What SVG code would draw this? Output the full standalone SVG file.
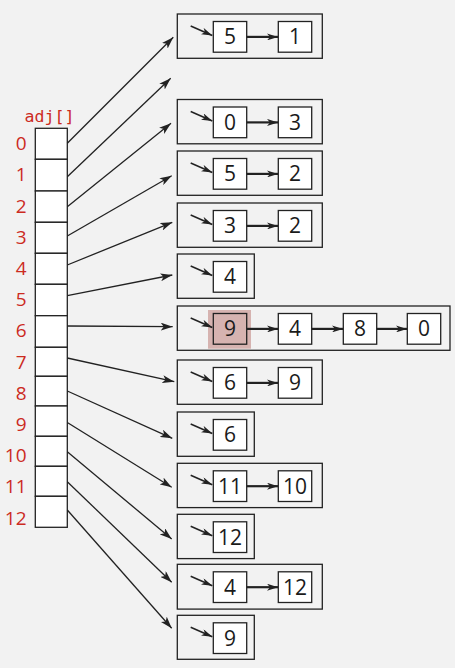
<svg xmlns="http://www.w3.org/2000/svg" width="455" height="668" viewBox="0 0 455 668">
<style>
.bg{fill:#f2f2f2}
.cell{fill:#ffffff;stroke:#222;stroke-width:1.3}
.box{fill:none;stroke:#222;stroke-width:1.3}
.node{fill:#ffffff;stroke:#222;stroke-width:1.3}
.hl{fill:#d6b3b0}
.nt{font-family:"Open Sans","Noto Sans","Liberation Sans",sans-serif;font-size:21px;fill:#1a1a1a;text-anchor:middle}
.idx{font-family:"Open Sans","Noto Sans","Liberation Sans",sans-serif;font-size:19px;fill:#cc2b1f;text-anchor:end}
.adj{font-family:"DejaVu Sans Mono","Liberation Mono",monospace;font-size:16.6px;fill:#cc2b1f}
.conn{fill:none;stroke:#222;stroke-width:1.3;marker-end:url(#ah)}
.ptr{fill:none;stroke:#222;stroke-width:1.5;marker-end:url(#ah2)}
.lnk{fill:none;stroke:#222;stroke-width:2.2;marker-end:url(#ah2)}
</style>
<defs>
<marker id="ah" markerUnits="userSpaceOnUse" viewBox="0 0 12 8" markerWidth="12" markerHeight="8" refX="12" refY="4" orient="auto">
<path d="M0,0 L12,4 L0,8 L3,4 z" fill="#222"/>
</marker>
<marker id="ah2" markerUnits="userSpaceOnUse" viewBox="0 0 11 7" markerWidth="11" markerHeight="7" refX="11" refY="3.5" orient="auto">
<path d="M0,0 L11,3.5 L0,7 L3,3.5 z" fill="#222"/>
</marker>
</defs>
<rect class="bg" x="0" y="0" width="455" height="668"/>

<g id="adj-array">
<text class="adj" x="24.5" y="122">adj[]</text>
<rect class="cell" x="35.3" y="128.3" width="32" height="31"/>
<rect class="cell" x="35.3" y="159.3" width="32" height="31.7"/>
<rect class="cell" x="35.3" y="191" width="32" height="31.3"/>
<rect class="cell" x="35.3" y="222.3" width="32" height="31"/>
<rect class="cell" x="35.3" y="253.3" width="32" height="31"/>
<rect class="cell" x="35.3" y="284.3" width="32" height="31.4"/>
<rect class="cell" x="35.3" y="315.7" width="32" height="31.6"/>
<rect class="cell" x="35.3" y="347.3" width="32" height="29"/>
<rect class="cell" x="35.3" y="376.3" width="32" height="29.7"/>
<rect class="cell" x="35.3" y="406" width="32" height="30.3"/>
<rect class="cell" x="35.3" y="436.3" width="32" height="30"/>
<rect class="cell" x="35.3" y="466.3" width="32" height="30"/>
<rect class="cell" x="35.3" y="496.3" width="32" height="31"/>
<text class="idx" x="26.5" y="150.2">0</text>
<text class="idx" x="26.5" y="181.4">1</text>
<text class="idx" x="26.5" y="212.6">2</text>
<text class="idx" x="26.5" y="243.8">3</text>
<text class="idx" x="26.5" y="275">4</text>
<text class="idx" x="26.5" y="306.2">5</text>
<text class="idx" x="26.5" y="337.4">6</text>
<text class="idx" x="26.5" y="368.6">7</text>
<text class="idx" x="26.5" y="399.8">8</text>
<text class="idx" x="26.5" y="431">9</text>
<text class="idx" x="26.5" y="462.2">10</text>
<text class="idx" x="26.5" y="493.4">11</text>
<text class="idx" x="26.5" y="524.6">12</text>
</g>

<g id="connectors">
<path class="conn" d="M67.3,143.3 L173.3,37.3"/>
<path class="conn" d="M67.3,176.7 L170.7,78.3"/>
<path class="conn" d="M67.3,206.7 L171,123.3"/>
<path class="conn" d="M67.3,236 L171.7,175.7"/>
<path class="conn" d="M67.3,265 L172.3,222.3"/>
<path class="conn" d="M67.3,295.7 L172.3,275"/>
<path class="conn" d="M67.3,326 L172.7,326.7"/>
<path class="conn" d="M67.3,358 L174.3,381.7"/>
<path class="conn" d="M67.3,391 L172.3,438.3"/>
<path class="conn" d="M67.3,422.5 L171.7,487.3"/>
<path class="conn" d="M67.3,451.7 L171.7,539"/>
<path class="conn" d="M67.3,481.7 L171.7,582.3"/>
<path class="conn" d="M67.3,510 L171.7,628.3"/>
</g>

<g id="list-0">
<rect class="box" x="177.3" y="14" width="145" height="44.3"/>
<path class="ptr" d="M190.7,26 L212.3,35.5"/>
<rect class="node" x="213.3" y="21.5" width="33.4" height="30.7"/>
<text class="nt" x="230" y="44.4">5</text>
<path class="lnk" d="M246.7,36.9 L278,36.9"/>
<rect class="node" x="278.3" y="21.5" width="33.4" height="30.7"/>
<text class="nt" x="295" y="44.4">1</text>
</g>

<g id="list-2">
<rect class="box" x="177.3" y="99.5" width="145" height="44.3"/>
<path class="ptr" d="M190.7,111.5 L212.3,121"/>
<rect class="node" x="213.3" y="107" width="33.4" height="30.7"/>
<text class="nt" x="230" y="129.9">0</text>
<path class="lnk" d="M246.7,122.4 L278,122.4"/>
<rect class="node" x="278.3" y="107" width="33.4" height="30.7"/>
<text class="nt" x="295" y="129.9">3</text>
</g>

<g id="list-3">
<rect class="box" x="177.3" y="151" width="145" height="44.3"/>
<path class="ptr" d="M190.7,163 L212.3,172.5"/>
<rect class="node" x="213.3" y="158.5" width="33.4" height="30.7"/>
<text class="nt" x="230" y="181.4">5</text>
<path class="lnk" d="M246.7,173.9 L278,173.9"/>
<rect class="node" x="278.3" y="158.5" width="33.4" height="30.7"/>
<text class="nt" x="295" y="181.4">2</text>
</g>

<g id="list-4">
<rect class="box" x="177.3" y="203" width="145" height="44.3"/>
<path class="ptr" d="M190.7,215 L212.3,224.5"/>
<rect class="node" x="213.3" y="210.5" width="33.4" height="30.7"/>
<text class="nt" x="230" y="233.4">3</text>
<path class="lnk" d="M246.7,225.9 L278,225.9"/>
<rect class="node" x="278.3" y="210.5" width="33.4" height="30.7"/>
<text class="nt" x="295" y="233.4">2</text>
</g>

<g id="list-5">
<rect class="box" x="177.3" y="254" width="77" height="44.3"/>
<path class="ptr" d="M190.7,266 L212.3,275.5"/>
<rect class="node" x="213.3" y="261.5" width="33.4" height="30.7"/>
<text class="nt" x="230" y="284.4">4</text>
</g>

<g id="list-6">
<rect class="box" x="177.3" y="306" width="272.7" height="44.3"/>
<rect class="hl" x="208" y="310" width="43" height="38.7"/>
<path class="ptr" d="M190.7,318 L212.3,327.5"/>
<rect class="node" x="213.3" y="313.5" width="33.4" height="30.7" style="fill:#d6b3b0"/>
<text class="nt" x="230" y="336.4">9</text>
<path class="lnk" d="M246.7,328.9 L278,328.9"/>
<rect class="node" x="278.3" y="313.5" width="33.4" height="30.7"/>
<text class="nt" x="295" y="336.4">4</text>
<path class="lnk" d="M311.7,328.9 L343,328.9"/>
<rect class="node" x="343.3" y="313.5" width="33.4" height="30.7"/>
<text class="nt" x="360" y="336.4">8</text>
<path class="lnk" d="M376.7,328.9 L407,328.9"/>
<rect class="node" x="407.3" y="313.5" width="33.4" height="30.7"/>
<text class="nt" x="424" y="336.4">0</text>
</g>

<g id="list-7">
<rect class="box" x="177.3" y="360" width="145" height="44.3"/>
<path class="ptr" d="M190.7,372 L212.3,381.5"/>
<rect class="node" x="213.3" y="367.5" width="33.4" height="30.7"/>
<text class="nt" x="230" y="390.4">6</text>
<path class="lnk" d="M246.7,382.9 L278,382.9"/>
<rect class="node" x="278.3" y="367.5" width="33.4" height="30.7"/>
<text class="nt" x="295" y="390.4">9</text>
</g>

<g id="list-8">
<rect class="box" x="177.3" y="412" width="77" height="44.3"/>
<path class="ptr" d="M190.7,424 L212.3,433.5"/>
<rect class="node" x="213.3" y="419.5" width="33.4" height="30.7"/>
<text class="nt" x="230" y="442.4">6</text>
</g>

<g id="list-9">
<rect class="box" x="177.3" y="463.3" width="145" height="44.3"/>
<path class="ptr" d="M190.7,475.3 L212.3,484.8"/>
<rect class="node" x="213.3" y="470.8" width="33.4" height="30.7"/>
<text class="nt" x="230" y="493.7">11</text>
<path class="lnk" d="M246.7,486.2 L278,486.2"/>
<rect class="node" x="278.3" y="470.8" width="33.4" height="30.7"/>
<text class="nt" x="295" y="493.7">10</text>
</g>

<g id="list-10">
<rect class="box" x="177.3" y="514.3" width="77" height="44.3"/>
<path class="ptr" d="M190.7,526.3 L212.3,535.8"/>
<rect class="node" x="213.3" y="521.8" width="33.4" height="30.7"/>
<text class="nt" x="230" y="544.7">12</text>
</g>

<g id="list-11">
<rect class="box" x="177.3" y="564.3" width="145" height="44.8"/>
<path class="ptr" d="M190.7,576.3 L212.3,585.8"/>
<rect class="node" x="213.3" y="571.8" width="33.4" height="30.7"/>
<text class="nt" x="230" y="594.7">4</text>
<path class="lnk" d="M246.7,587.2 L278,587.2"/>
<rect class="node" x="278.3" y="571.8" width="33.4" height="30.7"/>
<text class="nt" x="295" y="594.7">12</text>
</g>

<g id="list-12">
<rect class="box" x="177.3" y="615.3" width="77" height="44"/>
<path class="ptr" d="M190.7,627.3 L212.3,636.8"/>
<rect class="node" x="213.3" y="622.8" width="33.4" height="30.7"/>
<text class="nt" x="230" y="645.7">9</text>
</g>
</svg>
